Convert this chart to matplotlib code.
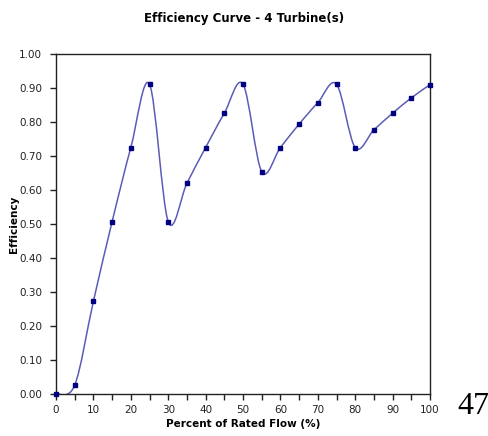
import matplotlib.pyplot as plt
from matplotlib.path import Path
from matplotlib.patches import PathPatch

# Datos
flujo = [0, 5, 10, 15, 20, 25, 30, 35, 40, 45, 50,
         55, 60, 65, 70, 75, 80, 85, 90, 95, 100]
eficiencia = [0.00, 0.026, 0.273, 0.507, 0.725, 0.911, 0.507, 0.620, 0.725, 0.826, 0.911,
              0.654, 0.725, 0.794, 0.857, 0.911, 0.725, 0.777, 0.826, 0.871, 0.910]
xticks = list(range(0, 101, 10))
yticks = [i / 10 for i in range(11)]

fig = plt.figure(figsize=(4.88, 4.36), dpi=100)
ax = fig.add_axes([0.1148, 0.0963, 0.7664, 0.7798])

# Línea suavizada estilo Excel (Bezier por tramos)
n = len(flujo)
verts = [(flujo[0], eficiencia[0])]
codes = [Path.MOVETO]
for i in range(n - 1):
    a = max(i - 1, 0)
    b = min(i + 2, n - 1)
    c1 = (flujo[i] + (flujo[i + 1] - flujo[a]) / 6,
          eficiencia[i] + (eficiencia[i + 1] - eficiencia[a]) / 6)
    c2 = (flujo[i + 1] - (flujo[b] - flujo[i]) / 6,
          eficiencia[i + 1] - (eficiencia[b] - eficiencia[i]) / 6)
    verts += [c1, c2, (flujo[i + 1], eficiencia[i + 1])]
    codes += [Path.CURVE4] * 3
ax.add_patch(PathPatch(Path(verts, codes), facecolor='none',
                       edgecolor='#5c5cb8', lw=1.1))

ax.plot(flujo, eficiencia, ls='none', marker='s', ms=3.2,
        color='#000080', clip_on=False, zorder=3)

ax.set_xlim(0, 100)
ax.set_ylim(0, 1)
ax.set_xticks(xticks)
ax.set_xticks(range(0, 101, 5), minor=True)
ax.set_yticks(yticks)
ax.set_yticklabels([f'{v:.2f}' for v in yticks])
ax.tick_params(axis='both', which='both', direction='out', length=4,
               width=1, labelsize=7.5, colors='#222222')
ax.tick_params(axis='y', pad=6)
ax.tick_params(axis='x', pad=4)
for s in ax.spines.values():
    s.set_color('#222222')
    s.set_linewidth(1)

ax.set_xlabel('Percent of Rated Flow (%)', fontsize=7.5, fontweight='bold',
              labelpad=3)
ax.set_ylabel('Efficiency', fontsize=7.5, fontweight='bold')
ax.yaxis.set_label_coords(-0.099, 0.5)
fig.text(0.5, 0.958, 'Efficiency Curve - 4 Turbine(s)', ha='center',
         va='center', fontsize=8.5, fontweight='bold')
fig.text(0.937, 0.068, '47', ha='left', va='center', fontsize=23,
         family='Liberation Serif')

plt.savefig('out.png', dpi=100)
